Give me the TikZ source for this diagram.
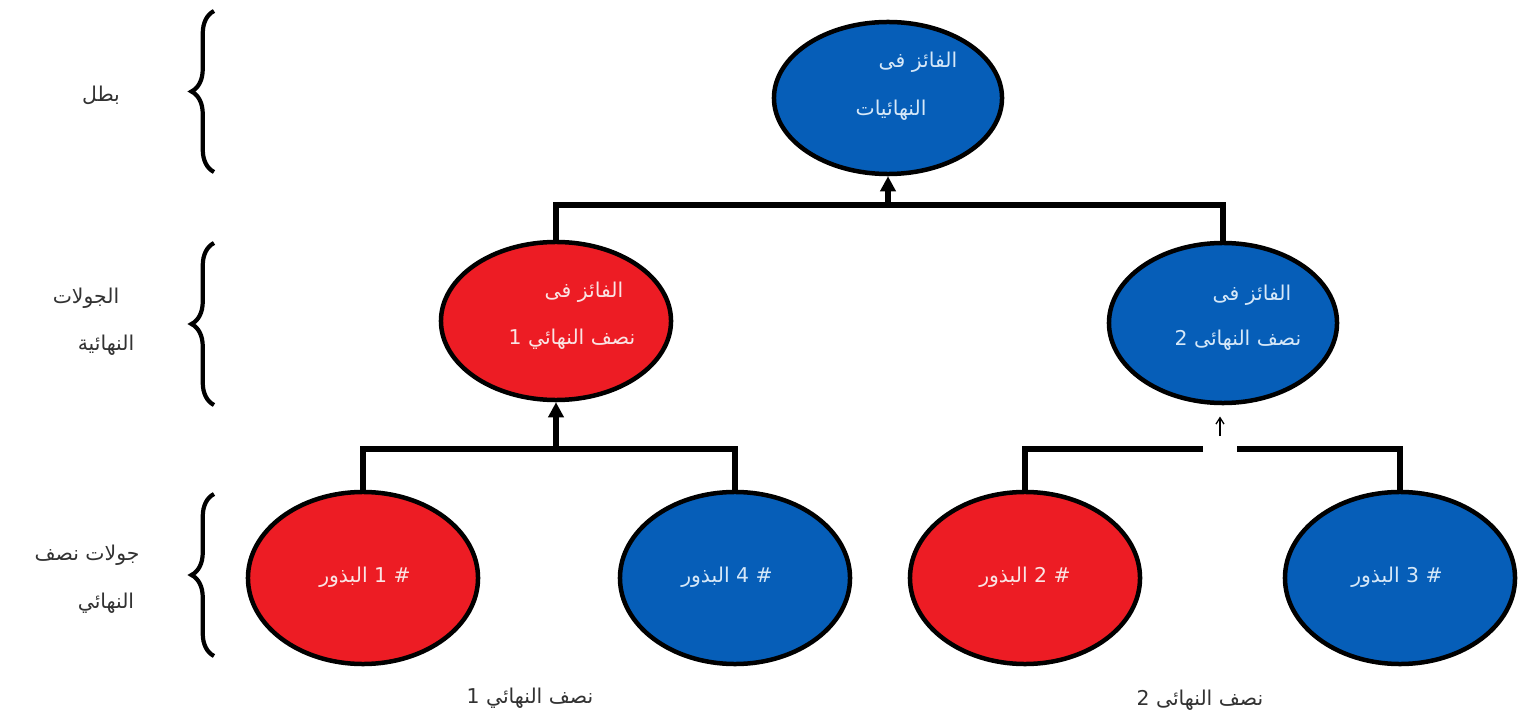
\documentclass[tikz,border=0pt]{standalone}
\usepackage{fontspec}
\usetikzlibrary{shapes.geometric,arrows.meta,decorations.pathreplacing}
\TeXXeTstate=1
\newfontfamily\arabicfont[Script=Arabic]{DejaVu Sans}
\newcommand{\artext}[1]{\beginR #1\endR}
\definecolor{tred}{RGB}{237,28,36}
\definecolor{tblue}{RGB}{6,94,184}
\definecolor{onred}{RGB}{250,228,228}
\definecolor{onblue}{RGB}{214,232,248}
\definecolor{lblgray}{RGB}{50,50,50}
\begin{document}
\begin{tikzpicture}[x=0.025cm,y=-0.025cm,
  ell/.style={ellipse, draw=black, line width=3.2pt, inner sep=0pt},
  redell/.style={ell, fill=tred},
  blueell/.style={ell, fill=tblue},
  intext/.style={font=\arabicfont\fontsize{14.5}{16}\selectfont, inner sep=0pt},
  txtred/.style={intext, text=onred},
  txtblue/.style={intext, text=onblue},
  sidelbl/.style={font=\arabicfont\fontsize{14.5}{16}\selectfont, text=lblgray, inner sep=0pt},
  conn/.style={line width=4pt, line cap=rect},
  bigarrow/.style={line width=4pt, -{Triangle[length=0.38cm,width=0.38cm]}},
  thinarrow/.style={line width=0.9pt, -{Straight Barb[length=0.16cm,width=0.2cm]}},
  bracestyle/.style={line width=3pt, decorate, decoration={brace, amplitude=16pt}}
]
\useasboundingbox (0,0) rectangle (1527,721);
\fill[white] (0,0) rectangle (1527,721);

% ellipses
\node[blueell, minimum width=5.7cm, minimum height=3.8cm] (T) at (888,98) {};
\node[redell, minimum width=5.75cm, minimum height=3.95cm] (M1) at (556,321) {};
\node[blueell, minimum width=5.7cm, minimum height=4.0cm] (M2) at (1223,323) {};
\node[redell, minimum width=5.75cm, minimum height=4.3cm] (B1) at (363,578) {};
\node[blueell, minimum width=5.75cm, minimum height=4.3cm] (B2) at (735,578) {};
\node[redell, minimum width=5.75cm, minimum height=4.3cm] (B3) at (1025,578) {};
\node[blueell, minimum width=5.75cm, minimum height=4.3cm] (B4) at (1400,578) {};

% texts in ellipses
\node[txtblue] (Tt1) at (918,62) {\artext{الفائز فى}};
\node[txtblue] (Tt2) at (891,110) {\artext{النهائيات}};
\node[txtred] (M1t1) at (584,292) {\artext{الفائز فى}};
\node[txtred] (M1t2) at (572,339) {\artext{نصف النهائي 1}};
\node[txtblue] (M2t1) at (1252,295) {\artext{الفائز فى}};
\node[txtblue] (M2t2) at (1238,340) {\artext{نصف النهائى 2}};
\node[txtred] (B1t) at (365,577) {\artext{\# 1 البذور}};
\node[txtblue] (B2t) at (727,577) {\artext{\# 4 البذور}};
\node[txtred] (B3t) at (1025,577) {\artext{\# 2 البذور}};
\node[txtblue] (B4t) at (1397,577) {\artext{\# 3 البذور}};

% connectors
\coordinate (j0) at (888,205);
\coordinate (j1) at (556,449);
\coordinate (g1) at (1200,449);
\coordinate (g2) at (1240,449);
\coordinate (a2) at (1220,436);
\draw[conn] (M1.north) |- (j0) -| (M2.north);
\draw[bigarrow] (j0) -- (j0 |- T.south);
\draw[conn] (B1.north) |- (j1) -| (B2.north);
\draw[bigarrow] (j1) -- (j1 |- M1.south);
\draw[conn] (B3.north) |- (g1);
\draw[conn] (B4.north) |- (g2);
\draw[thinarrow, shorten >=8pt] (a2) -- (a2 |- M2.south);

% braces
\draw[bracestyle] (214,172) -- (214,11);
\draw[bracestyle] (214,405) -- (214,243);
\draw[bracestyle] (214,656) -- (214,494);

% side labels
\node[sidelbl] (L1) at (101,95) {\artext{بطل}};
\node[sidelbl] (L2a) at (86,298) {\artext{الجولات}};
\node[sidelbl] (L2b) at (106,345) {\artext{النهائية}};
\node[sidelbl] (L3a) at (87,555) {\artext{جولات نصف}};
\node[sidelbl] (L3b) at (106,603) {\artext{النهائي}};
\node[sidelbl] (S1) at (530,698) {\artext{نصف النهائي 1}};
\node[sidelbl] (S2) at (1200,700) {\artext{نصف النهائى 2}};
\end{tikzpicture}
\end{document}
